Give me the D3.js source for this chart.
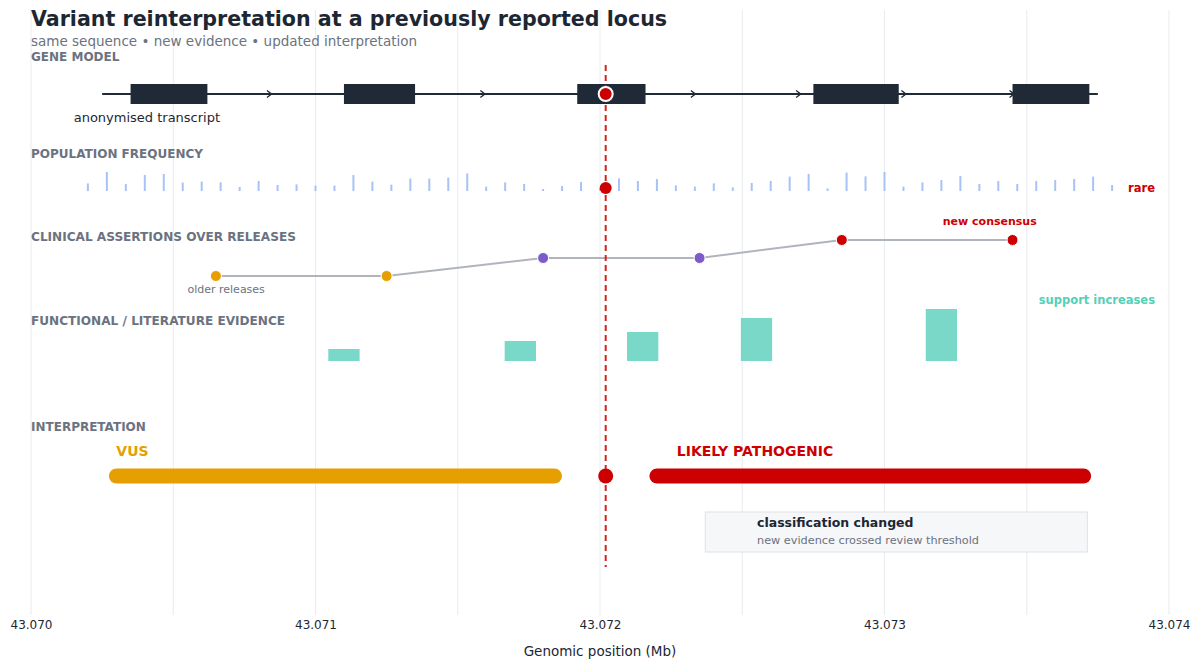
<!DOCTYPE html>
<html>
<head>
<meta charset="utf-8">
<script src="https://cdn.jsdelivr.net/npm/d3@7/dist/d3.min.js"></script>
<style>
  body { margin: 0; background: #fff; }
  svg { display: block; font-family: "DejaVu Sans", sans-serif; }
</style>
</head>
<body>
<svg></svg>
<script>
/* data */
var xTicks = [43.070, 43.0705, 43.071, 43.0715, 43.072, 43.0725, 43.073, 43.0735, 43.074];
var xTickLabels = ["43.070", "43.071", "43.072", "43.073", "43.074"];
var transcriptSpan = [43.07025, 43.07375];
var exonStart = [43.07035, 43.07110, 43.07192, 43.07275, 43.07345];
var exonEnd = [43.07062, 43.07135, 43.07216, 43.07305, 43.07372];
var strandArrows = [43.07084, 43.07159, 43.07233, 43.07270, 43.07307, 43.07345];
var variantPos = 43.07202;

// population frequency (relative), evenly spaced sites across the window
var freqSpan = [43.0702, 43.0738];
var popFreq = [0.38, 0.95, 0.35, 0.80, 0.85, 0.42, 0.47, 0.43, 0.20, 0.50,
               0.30, 0.33, 0.27, 0.27, 0.80, 0.47, 0.32, 0.62, 0.62, 0.67,
               0.88, 0.22, 0.43, 0.35, 0.10, 0.25, 0.45, 0.15,
               0.63, 0.50, 0.60, 0.28, 0.22, 0.38, 0.18, 0.40, 0.50, 0.72,
               0.85, 0.13, 0.92, 0.73, 0.95, 0.22, 0.43, 0.55, 0.75, 0.35,
               0.50, 0.35, 0.50, 0.55, 0.60, 0.72, 0.30];

// clinical assertions over releases
var releasePos = [43.07065, 43.07125, 43.0718, 43.07235, 43.07285, 43.07345];
var releaseLevel = [0, 0, 1, 1, 2, 2];
var levelColors = ["#e69f00", "#7b5cc8", "#cc0000"];

// functional / literature evidence
var evidencePos = [43.0711, 43.07172, 43.07215, 43.07255, 43.0732];
var evidenceWeight = [1.2, 2.0, 2.9, 4.3, 5.2];

// interpretation
var interpLabels = ["VUS", "LIKELY PATHOGENIC"];
var interpStart = [43.0703, 43.0722];
var interpEnd = [43.07184, 43.0737];
var interpLabelPos = [43.0703, 43.07227];
var interpColors = ["#e69f00", "#cc0000"];

/* d3.js setting */
var svgWidth = 1200;
var svgHeight = 667;
var margin = {top: 10, right: 31, bottom: 52, left: 31};
var scale = {};
var track = {gene: 94, freq: 191, clinical: [276, 240], evidence: 361, interp: 476};

var svg = d3.select("svg")
    .attr('width', svgWidth)
    .attr('height', svgHeight);

setScale();
drawGrid();
drawHeader();
drawGeneModel();
drawFrequency();
drawClinical();
drawEvidence();
drawInterpretation();
drawVariant();
drawAxis();

function setScale(){
  scale.x = d3.scaleLinear()
      .domain([43.070, 43.074])
      .range([margin.left, svgWidth - margin.right]);
  scale.site = d3.scalePoint()
      .domain(d3.range(popFreq.length))
      .range([scale.x(freqSpan[0]), scale.x(freqSpan[1])]);
  scale.freq = d3.scaleLinear().domain([0, 1]).range([0, 20]);
  scale.level = d3.scaleLinear().domain([0, 2]).range(track.clinical);
  scale.evidence = d3.scaleLinear().domain([0, 6]).range([track.evidence, track.evidence - 60]);
}

function drawGrid(){
  svg.append('g')
      .selectAll('line')
      .data(xTicks)
      .enter()
      .append('line')
      .attr('x1', function(d){return scale.x(d)})
      .attr('x2', function(d){return scale.x(d)})
      .attr('y1', margin.top)
      .attr('y2', svgHeight - margin.bottom)
      .attr('stroke', '#e8ebef')
      .attr('stroke-width', 1);
}

function label(text, x, y, size, color, weight, anchor){
  return svg.append('text')
      .attr('x', x)
      .attr('y', y)
      .attr('font-size', size)
      .attr('fill', color)
      .attr('font-weight', weight || 'normal')
      .attr('text-anchor', anchor || 'start')
      .text(text);
}

function drawHeader(){
  label('Variant reinterpretation at a previously reported locus', 31, 26, 20.6, '#1c2733', 'bold');
  label('same sequence \u2022 new evidence \u2022 updated interpretation', 31, 46, 13.5, '#6b7280');
  label('GENE MODEL', 31, 61, 12, '#6b7280', 'bold');
  label('POPULATION FREQUENCY', 31, 158, 12, '#6b7280', 'bold');
  label('CLINICAL ASSERTIONS OVER RELEASES', 31, 241, 12.1, '#6b7280', 'bold');
  label('FUNCTIONAL / LITERATURE EVIDENCE', 31, 325, 12.1, '#6b7280', 'bold');
  label('INTERPRETATION', 31, 431, 12, '#6b7280', 'bold');
}

function drawGeneModel(){
  var g = svg.append('g');
  g.append('line')
      .attr('x1', scale.x(transcriptSpan[0]))
      .attr('x2', scale.x(transcriptSpan[1]))
      .attr('y1', track.gene)
      .attr('y2', track.gene)
      .attr('stroke', '#1f2a36')
      .attr('stroke-width', 2);

  g.selectAll('path.arrow')
      .data(strandArrows)
      .enter()
      .append('path')
      .attr('class', 'arrow')
      .attr('d', 'M-3,-3.5L1.5,0L-3,3.5')
      .attr('transform', function(d){return translate(scale.x(d), track.gene)})
      .attr('fill', 'none')
      .attr('stroke', '#1f2a36')
      .attr('stroke-width', 1.4);

  g.selectAll('rect')
      .data(exonStart)
      .enter()
      .append('rect')
      .attr('x', function(d){return scale.x(d)})
      .attr('width', function(d, i){return scale.x(exonEnd[i]) - scale.x(d)})
      .attr('y', track.gene - 10)
      .attr('height', 20)
      .attr('fill', '#1f2a36');

  label('anonymised transcript', scale.x(43.07015), 122, 13, '#1c2733');
}

function drawFrequency(){
  svg.append('g')
      .selectAll('line')
      .data(popFreq)
      .enter()
      .append('line')
      .attr('x1', function(d, i){return scale.site(i)})
      .attr('x2', function(d, i){return scale.site(i)})
      .attr('y1', track.freq)
      .attr('y2', function(d){return track.freq - scale.freq(d)})
      .attr('stroke', '#a7c3f4')
      .attr('stroke-width', 2);

  label('rare', svgWidth - 45, 192, 11.5, '#cc0000', 'bold', 'end');
}

function drawClinical(){
  var line = d3.line()
      .x(function(d){return scale.x(d)})
      .y(function(d, i){return scale.level(releaseLevel[i])});
  svg.append('path')
      .datum(releasePos)
      .attr('d', line)
      .attr('fill', 'none')
      .attr('stroke', '#b0b5bc')
      .attr('stroke-width', 2);

  svg.append('g')
      .selectAll('circle')
      .data(releasePos)
      .enter()
      .append('circle')
      .attr('cx', function(d){return scale.x(d)})
      .attr('cy', function(d, i){return scale.level(releaseLevel[i])})
      .attr('r', 5.5)
      .attr('fill', function(d, i){return levelColors[releaseLevel[i]]})
      .attr('stroke', '#fff')
      .attr('stroke-width', 1);

  label('older releases', scale.x(43.070686), 293, 11, '#6b7280', 'normal', 'middle');
  label('new consensus', scale.x(43.07337), 225, 11, '#cc0000', 'bold', 'middle');
}

function drawEvidence(){
  var w = scale.x(43.07011) - scale.x(43.070);
  svg.append('g')
      .selectAll('rect')
      .data(evidencePos)
      .enter()
      .append('rect')
      .attr('x', function(d){return scale.x(d) - w / 2})
      .attr('width', w)
      .attr('y', function(d, i){return scale.evidence(evidenceWeight[i])})
      .attr('height', function(d, i){return track.evidence - scale.evidence(evidenceWeight[i])})
      .attr('fill', '#79d8c7');

  label('support increases', svgWidth - 45, 304, 11.5, '#55d0b8', 'bold', 'end');
}

function drawInterpretation(){
  var g = svg.append('g');
  g.selectAll('line')
      .data(interpLabels)
      .enter()
      .append('line')
      .attr('x1', function(d, i){return scale.x(interpStart[i])})
      .attr('x2', function(d, i){return scale.x(interpEnd[i])})
      .attr('y1', track.interp)
      .attr('y2', track.interp)
      .attr('stroke', function(d, i){return interpColors[i]})
      .attr('stroke-width', 15)
      .attr('stroke-linecap', 'round');

  g.selectAll('text')
      .data(interpLabels)
      .enter()
      .append('text')
      .attr('x', function(d, i){return scale.x(interpLabelPos[i])})
      .attr('y', 456)
      .attr('font-size', 14)
      .attr('font-weight', 'bold')
      .attr('fill', function(d, i){return interpColors[i]})
      .text(function(d){return d});

  // annotation box
  var bx = scale.x(43.07237);
  var bw = scale.x(43.073713) - bx;
  svg.append('rect')
      .attr('x', bx)
      .attr('y', 512)
      .attr('width', bw)
      .attr('height', 40)
      .attr('fill', '#f6f7f9')
      .attr('stroke', '#dde1e6')
      .attr('stroke-width', 1);
  label('classification changed', scale.x(43.072552), 527, 12.5, '#1c2733', 'bold');
  label('new evidence crossed review threshold', scale.x(43.072552), 544, 11.25, '#6b7280');
}

function drawVariant(){
  var vx = scale.x(variantPos);
  svg.append('line')
      .attr('x1', vx)
      .attr('x2', vx)
      .attr('y1', 65)
      .attr('y2', 567)
      .attr('stroke', '#d42222')
      .attr('stroke-width', 2)
      .attr('stroke-dasharray', '6,4');

  svg.append('circle')
      .attr('cx', vx).attr('cy', track.gene).attr('r', 7)
      .attr('fill', '#cc0000').attr('stroke', '#fff').attr('stroke-width', 2);
  svg.append('circle')
      .attr('cx', vx).attr('cy', 188).attr('r', 6)
      .attr('fill', '#cc0000');
  svg.append('circle')
      .attr('cx', vx).attr('cy', track.interp).attr('r', 7.5)
      .attr('fill', '#cc0000');
}

function drawAxis(){
  var axis = svg.append('g')
      .attr('transform', translate(0, svgHeight - margin.bottom))
      .call(d3.axisBottom(scale.x)
          .tickValues(xTickLabels.map(Number))
          .tickFormat(function(d, i){return xTickLabels[i]})
          .tickSize(0)
          .tickPadding(5));
  axis.select('.domain').remove();
  axis.selectAll('text')
      .attr('font-family', '"DejaVu Sans", sans-serif')
      .attr('font-size', 12)
      .attr('fill', '#1c2733');

  label('Genomic position (Mb)', svgWidth / 2, 656, 13.5, '#1c2733', 'normal', 'middle');
}

function translate(x, y) {
    return 'translate(' + x + ',' + y + ')';
}
</script>
</body>
</html>
